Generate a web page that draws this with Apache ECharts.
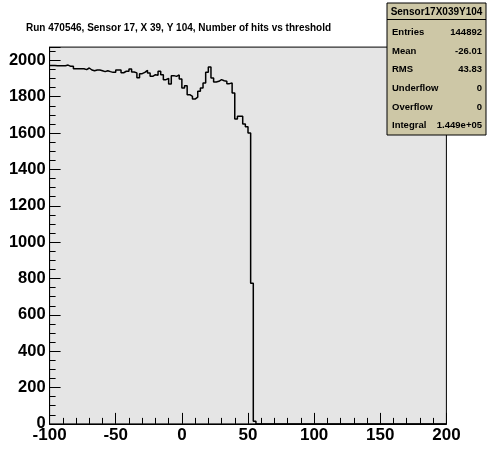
<!DOCTYPE html>
<html>
<head>
<meta charset="utf-8">
<script src="https://cdn.jsdelivr.net/npm/echarts@6/dist/echarts.min.js"></script>
<style>
html,body{margin:0;padding:0;background:#fff;}
#c{width:496px;height:471px;}
</style>
</head>
<body>
<div id="c"></div>
<script>
// Histogram: bins of width 2 starting at -100
const binStart = -100;
const binWidth = 2;
const binValues = [
  1972, 1972, 1971, 1971, 1970, 1970, 1974, 1967, 1967, 1954,
  1954, 1954, 1954, 1949, 1958, 1947, 1943, 1947, 1947, 1943,
  1938, 1943, 1938, 1934, 1934, 1947, 1947, 1932, 1940, 1940,
  1953, 1936, 1931, 1905, 1927, 1934, 1945, 1931, 1912, 1921,
  1918, 1940, 1921, 1894, 1901, 1870, 1916, 1912, 1920, 1898,
  1848, 1861, 1811, 1802, 1787, 1798, 1830, 1848, 1876, 1934,
  1964, 1903, 1881, 1885, 1894, 1888, 1885, 1872, 1876, 1820,
  1678, 1692, 1692, 1650, 1635, 1600, 774, 15
];
const xTicks = [-100, -50, 0, 50, 100, 150, 200];
const yTicks = [0, 200, 400, 600, 800, 1000, 1200, 1400, 1600, 1800, 2000];
const titleText = 'Run 470546, Sensor 17, X 39, Y 104, Number of hits vs threshold';
const statsName = 'Sensor17X039Y104';
const statsLabels = ['Entries', 'Mean', 'RMS', 'Underflow', 'Overflow', 'Integral'];
const statsValues = ['144892', '-26.01', '43.83', '0', '0', '1.449e+05'];

const xMin = -100, xMax = 200, yMin = 0, yMax = 2073;

// step points from bin edges
const pts = binValues.map((v, i) => [binStart + i * binWidth, v]);
pts.push([binStart + binValues.length * binWidth, 0]);
pts.push([xMax, 0]);

const font = '"Liberation Sans", Arial, Helvetica, sans-serif';

const chart = echarts.init(document.getElementById('c'), null, {renderer: 'canvas'});

const statsGraphics = [];
const bx = 387, by = 3, bw = 99, bh = 132;
statsGraphics.push({
  type: 'rect', shape: {x: bx, y: by, width: bw, height: bh},
  style: {fill: '#cdc7a6', stroke: '#000', lineWidth: 1}, z: 10
});
statsGraphics.push({
  type: 'line', shape: {x1: bx, y1: 19.5, x2: bx + bw, y2: 19.5},
  style: {stroke: '#000', lineWidth: 1}, z: 11
});
statsGraphics.push({
  type: 'text', x: bx + bw / 2, y: 12, z: 12,
  style: {text: statsName, fill: '#000', font: 'bold 10px ' + font, align: 'center', verticalAlign: 'middle'}
});
statsLabels.forEach((lab, i) => {
  const yy = 32.3 + i * 18.7;
  statsGraphics.push({
    type: 'text', x: bx + 5, y: yy, z: 12,
    style: {text: lab, fill: '#000', font: 'bold 9.5px ' + font, align: 'left', verticalAlign: 'middle'}
  });
  statsGraphics.push({
    type: 'text', x: bx + bw - 4, y: yy, z: 12,
    style: {text: statsValues[i], fill: '#000', font: 'bold 9.5px ' + font, align: 'right', verticalAlign: 'middle'}
  });
});

chart.setOption({
  animation: false,
  backgroundColor: '#ffffff',
  title: {
    text: titleText,
    left: 26, top: 23, padding: 0,
    textStyle: {fontFamily: font, fontWeight: 'bold', fontSize: 10, color: '#000'}
  },
  grid: {
    left: 49.6, right: 49.6, top: 47.1, bottom: 47.1,
    show: true, backgroundColor: '#e5e5e5', borderColor: '#000', borderWidth: 1,
    containLabel: false
  },
  xAxis: {
    type: 'value', min: xMin, max: xMax, interval: 50,
    axisLine: {show: true, onZero: false, lineStyle: {color: '#000', width: 1}},
    axisTick: {show: true, inside: true, length: 11, lineStyle: {color: '#000', width: 1}},
    minorTick: {show: true, splitNumber: 5, length: 6, lineStyle: {color: '#000', width: 1}},
    splitLine: {show: false},
    axisLabel: {
      margin: 3, color: '#000', fontFamily: font, fontWeight: 'bold', fontSize: 17,
      formatter: v => xTicks.includes(v) ? String(v) : ''
    }
  },
  yAxis: {
    type: 'value', min: yMin, max: yMax, interval: 200,
    axisLine: {show: true, onZero: false, lineStyle: {color: '#000', width: 1}},
    axisTick: {show: true, inside: true, length: 11, lineStyle: {color: '#000', width: 1}},
    minorTick: {show: true, splitNumber: 4, length: 6, lineStyle: {color: '#000', width: 1}},
    splitLine: {show: false},
    axisLabel: {
      margin: 4, color: '#000', fontFamily: font, fontWeight: 'bold', fontSize: 16.5,
      formatter: v => yTicks.includes(v) ? String(v) : ''
    }
  },
  series: [{
    type: 'line', step: 'end', data: pts, symbol: 'none',
    lineStyle: {color: '#000', width: 1.5}, clip: true
  }],
  graphic: statsGraphics
});
</script>
</body>
</html>
